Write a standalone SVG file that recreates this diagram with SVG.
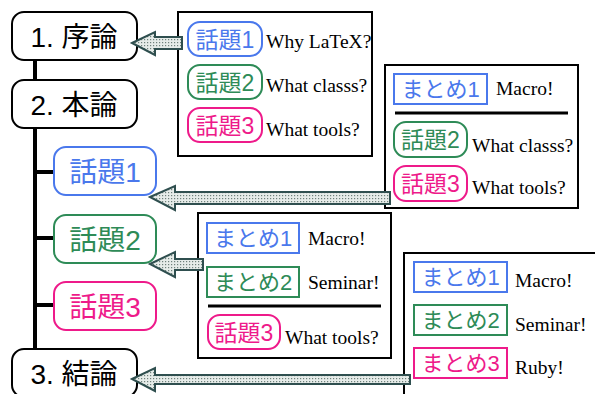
<svg xmlns="http://www.w3.org/2000/svg" width="595" height="394" viewBox="0 0 595 394">
<defs>
<pattern id="dots" width="3" height="3" patternUnits="userSpaceOnUse"><rect width="3" height="3" fill="#e6ece9"/><rect width="1.2" height="1.2" fill="#6f817b"/></pattern>
<style>
.main{fill:#fff;stroke:#000;stroke-width:2}
.mt{font-family:"Liberation Sans","Noto Sans CJK JP",sans-serif;font-size:28px;text-anchor:middle;fill:#000}
.jt{font-family:"Liberation Sans","Noto Sans CJK JP",sans-serif;text-anchor:middle}
.st{font-family:"Liberation Serif",serif;font-size:19.5px;fill:#000}
.box{fill:#fff;stroke:#000;stroke-width:2}
.b{stroke:#4a78ec;fill:#fff;stroke-width:2}
.g{stroke:#2e8b57;fill:#fff;stroke-width:2}
.p{stroke:#ee1a8a;fill:#fff;stroke-width:2}
.bt{fill:#4a78ec}.gt{fill:#2e8b57}.pt{fill:#ee1a8a}
.arr{fill:url(#dots);stroke:#2f4f4f;stroke-width:2;stroke-linejoin:miter}
.tree{stroke:#000;stroke-width:4;fill:none}
.sep{stroke:#000;stroke-width:3}
</style>
</defs>
<rect width="595" height="394" fill="#fff"/>
<g id="tree">
<path class="tree" d="M35 60V350M35 172H54M35 238H54M35 305H54"/>
</g>
<g id="n1"><rect class="main" x="12" y="12" width="125" height="48" rx="12"/><text class="mt" x="74" y="47">1. 序論</text></g>
<g id="n2"><rect class="main" x="12" y="80" width="125" height="48" rx="12"/><text class="mt" x="74" y="115">2. 本論</text></g>
<g id="t1"><rect class="b" x="54" y="147" width="102" height="48" rx="12"/><text class="jt bt" x="105" y="182" font-size="28">話題1</text></g>
<g id="t2"><rect class="g" x="54" y="215" width="102" height="48" rx="12"/><text class="jt gt" x="105" y="250" font-size="28">話題2</text></g>
<g id="t3"><rect class="p" x="54" y="282" width="102" height="48" rx="12"/><text class="jt pt" x="105" y="317" font-size="28">話題3</text></g>
<g id="n3"><rect class="main" x="12" y="349" width="125" height="48" rx="12"/><text class="mt" x="74" y="384">3. 結論</text></g>

<g id="boxA">
<rect class="box" x="178" y="12" width="194" height="144"/>
<rect class="b" x="188" y="22" width="74" height="34" rx="12"/><text class="jt bt" x="225" y="47.5" font-size="23">話題1</text><text class="st" x="266" y="48">Why LaTeX?</text>
<rect class="g" x="188" y="65" width="74" height="34" rx="12"/><text class="jt gt" x="225" y="90.5" font-size="23">話題2</text><text class="st" x="266" y="92">What classs?</text>
<rect class="p" x="188" y="108" width="74" height="34" rx="12"/><text class="jt pt" x="225" y="133.5" font-size="23">話題3</text><text class="st" x="266" y="136">What tools?</text>
</g>
<g id="boxB">
<rect class="box" x="385" y="65" width="193" height="143"/>
<rect class="b" x="394" y="74" width="93" height="30"/><text class="jt bt" x="440.5" y="97" font-size="22">まとめ1</text><text class="st" x="496" y="95">Macro!</text>
<line class="sep" x1="395" y1="113" x2="568" y2="113"/>
<rect class="g" x="394" y="122" width="73" height="35" rx="12"/><text class="jt gt" x="430.5" y="148" font-size="23">話題2</text><text class="st" x="472" y="152">What classs?</text>
<rect class="p" x="394" y="166" width="73" height="35" rx="12"/><text class="jt pt" x="430.5" y="192" font-size="23">話題3</text><text class="st" x="472" y="194">What tools?</text>
</g>
<g id="boxC">
<rect class="box" x="198" y="213" width="193" height="145"/>
<rect class="b" x="207" y="223" width="92" height="30"/><text class="jt bt" x="253" y="246" font-size="22">まとめ1</text><text class="st" x="308" y="245">Macro!</text>
<rect class="g" x="207" y="267" width="92" height="30"/><text class="jt gt" x="253" y="290" font-size="22">まとめ2</text><text class="st" x="308" y="289">Seminar!</text>
<line class="sep" x1="208" y1="306" x2="381" y2="306"/>
<rect class="p" x="208" y="315" width="72" height="34" rx="12"/><text class="jt pt" x="244" y="340.5" font-size="23">話題3</text><text class="st" x="285" y="344">What tools?</text>
</g>
<g id="boxD">
<rect class="box" x="404" y="253" width="194" height="150"/>
<rect class="b" x="414" y="262" width="93" height="30"/><text class="jt bt" x="460.5" y="285" font-size="22">まとめ1</text><text class="st" x="515" y="287">Macro!</text>
<rect class="g" x="414" y="305" width="93" height="30"/><text class="jt gt" x="460.5" y="328" font-size="22">まとめ2</text><text class="st" x="515" y="331">Seminar!</text>
<rect class="p" x="414" y="348" width="93" height="30"/><text class="jt pt" x="460.5" y="371" font-size="22">まとめ3</text><text class="st" x="515" y="374">Ruby!</text>
</g>

<g id="connectors">
<polygon class="arr" points="132,43 155,32 155,37 182,37 182,49 155,49 155,55"/>
<polygon class="arr" points="150,197 175,186 175,192 390,192 390,204 175,204 175,210"/>
<polygon class="arr" points="150,264 175,252 175,259 203,259 203,270 175,270 175,277"/>
<polygon class="arr" points="132,379 155,368 155,375 410,375 410,384 155,384 155,391"/>
</g>
</svg>
